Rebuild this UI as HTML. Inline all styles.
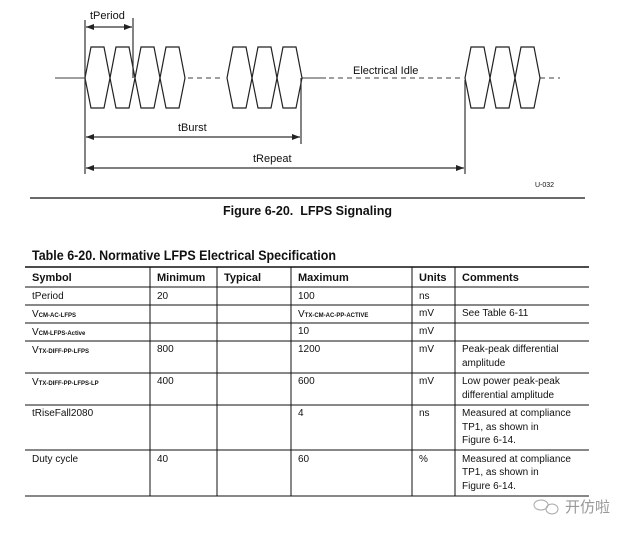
<!DOCTYPE html>
<html><head><meta charset="utf-8"><style>
html,body{margin:0;padding:0;background:#fff;}
svg{display:block;}
text{font-family:"Liberation Sans",Arial,sans-serif;fill:#111;white-space:pre;}
.cjk{font-family:"Liberation Sans","Noto Sans CJK SC",sans-serif;}
</style></head><body>
<svg width="632" height="533" viewBox="0 0 632 533" xmlns="http://www.w3.org/2000/svg">
<defs>
<marker id="ar" markerWidth="8" markerHeight="6" refX="8" refY="3" orient="auto" markerUnits="userSpaceOnUse">
<path d="M0,0 L8,3 L0,6 z" fill="#222"/></marker>
<marker id="al" markerWidth="8" markerHeight="6" refX="0" refY="3" orient="auto" markerUnits="userSpaceOnUse">
<path d="M8,0 L0,3 L8,6 z" fill="#222"/></marker>
<path id="eye" d="M0,78 L6,47 L19,47 L25,78 L19,108 L6,108 Z" fill="none" stroke="#222" stroke-width="1.2"/>
</defs>
<g stroke="#666" stroke-width="1.3" fill="none">
<line x1="55" y1="78" x2="85" y2="78"/>
<line x1="188" y1="78" x2="224" y2="78" stroke-dasharray="5,4"/>
<line x1="302" y1="78" x2="326" y2="78"/>
<line x1="329" y1="78" x2="464" y2="78" stroke-dasharray="5,4"/>
<line x1="540" y1="78" x2="560" y2="78" stroke-dasharray="5,4"/>
</g>
<use href="#eye" x="85"/><use href="#eye" x="110"/><use href="#eye" x="135"/><use href="#eye" x="160"/>
<use href="#eye" x="227"/><use href="#eye" x="252"/><use href="#eye" x="277"/>
<use href="#eye" x="465"/><use href="#eye" x="490"/><use href="#eye" x="515"/>
<g stroke="#333" stroke-width="1.2">
<line x1="85" y1="20" x2="85" y2="174"/>
<line x1="133" y1="18" x2="133" y2="78"/>
<line x1="301" y1="78" x2="301" y2="144"/>
<line x1="465" y1="80" x2="465" y2="174"/>
<line x1="86" y1="27" x2="132" y2="27" marker-start="url(#al)" marker-end="url(#ar)"/>
<line x1="86" y1="137" x2="300" y2="137" marker-start="url(#al)" marker-end="url(#ar)"/>
<line x1="86" y1="168" x2="464" y2="168" marker-start="url(#al)" marker-end="url(#ar)"/>
</g>
<text x="90" y="19" font-size="11">tPeriod</text>
<text x="178" y="131" font-size="11">tBurst</text>
<text x="253" y="162" font-size="11">tRepeat</text>
<text x="353" y="74" font-size="11">Electrical Idle</text>
<text x="535" y="187" font-size="7">U-032</text>
<line x1="30" y1="198" x2="585" y2="198" stroke="#111" stroke-width="1.2"/>
<text x="223" y="215" font-size="12.5" font-weight="bold" textLength="169" lengthAdjust="spacingAndGlyphs">Figure 6-20.  LFPS Signaling</text>
<text x="32" y="260" font-size="14" font-weight="bold" textLength="304" lengthAdjust="spacingAndGlyphs">Table 6-20. Normative LFPS Electrical Specification</text>
<g stroke="#111" stroke-width="1">
<line x1="25" y1="267" x2="589" y2="267" stroke-width="1.5"/>
<line x1="25" y1="287" x2="589" y2="287"/>
<line x1="25" y1="305" x2="589" y2="305"/>
<line x1="25" y1="323" x2="589" y2="323"/>
<line x1="25" y1="341" x2="589" y2="341"/>
<line x1="25" y1="373" x2="589" y2="373"/>
<line x1="25" y1="405" x2="589" y2="405"/>
<line x1="25" y1="450" x2="589" y2="450"/>
<line x1="25" y1="496" x2="589" y2="496"/>
<line x1="150" y1="267" x2="150" y2="496"/>
<line x1="217" y1="267" x2="217" y2="496"/>
<line x1="291" y1="267" x2="291" y2="496"/>
<line x1="412" y1="267" x2="412" y2="496"/>
<line x1="455" y1="267" x2="455" y2="496"/>
</g>
<g font-size="11" font-weight="bold">
<text x="32" y="281">Symbol</text><text x="157" y="281">Minimum</text><text x="224" y="281">Typical</text>
<text x="298" y="281">Maximum</text><text x="419" y="281">Units</text><text x="462" y="281">Comments</text>
</g>
<g font-size="10">
<text x="32" y="299">tPeriod</text><text x="157" y="299">20</text><text x="298" y="299">100</text><text x="419" y="299">ns</text>
<text x="32" y="317">V<tspan font-size="6" font-weight="bold">CM-AC-LFPS</tspan></text>
<text x="298" y="317">V<tspan font-size="6" font-weight="bold">TX-CM-AC-PP-ACTIVE</tspan></text>
<text x="419" y="316">mV</text><text x="462" y="316">See Table 6-11</text>
<text x="32" y="335">V<tspan font-size="6" font-weight="bold">CM-LFPS-Active</tspan></text>
<text x="298" y="334">10</text><text x="419" y="334">mV</text>
<text x="32" y="353">V<tspan font-size="6" font-weight="bold">TX-DIFF-PP-LFPS</tspan></text>
<text x="157" y="352">800</text><text x="298" y="352">1200</text><text x="419" y="352">mV</text>
<text x="462" y="352">Peak-peak differential</text><text x="462" y="366">amplitude</text>
<text x="32" y="385">V<tspan font-size="6" font-weight="bold">TX-DIFF-PP-LFPS-LP</tspan></text>
<text x="157" y="384">400</text><text x="298" y="384">600</text><text x="419" y="384">mV</text>
<text x="462" y="384">Low power peak-peak</text><text x="462" y="398">differential amplitude</text>
<text x="32" y="416">tRiseFall2080</text><text x="298" y="416">4</text><text x="419" y="416">ns</text>
<text x="462" y="416">Measured at compliance</text><text x="462" y="430">TP1, as shown in</text><text x="462" y="443">Figure 6-14.</text>
<text x="32" y="462">Duty cycle</text><text x="157" y="462">40</text><text x="298" y="462">60</text><text x="419" y="462">%</text>
<text x="462" y="462">Measured at compliance</text><text x="462" y="475">TP1, as shown in</text><text x="462" y="489">Figure 6-14.</text>
</g>
<g fill="none" stroke="#aaa" stroke-width="1">
<ellipse cx="541" cy="505" rx="7" ry="5"/><ellipse cx="552" cy="509" rx="6" ry="5"/>
</g>
<text x="565" y="512" font-size="15" class="cjk" style="fill:#999">开仿啦</text>
</svg>
</body></html>
